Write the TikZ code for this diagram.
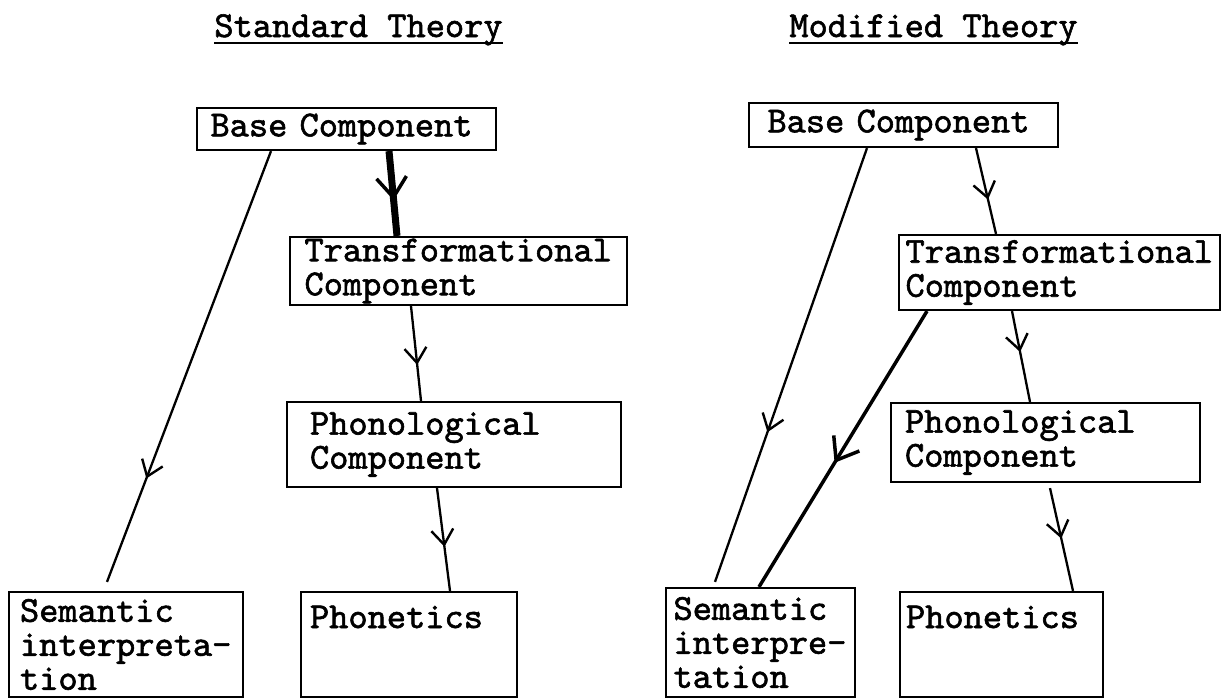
\documentclass[tikz,border=0pt]{standalone}
\usepackage{fontspec}
\setmonofont{lmmono10-regular.otf}[FakeBold=1.6]
\usepackage{tikz}
\usetikzlibrary{arrows.meta,decorations.markings,positioning}
\tikzset{
  comp/.style={draw, line width=2.2pt, inner sep=0pt, align=left},
  midarrow/.style={postaction={decorate}, decoration={markings,
    mark=at position #1 with {\arrow{Straight Barb[length=15pt,width=22pt,line width=2.4pt]}}}},
  bigarrow/.style={postaction={decorate}, decoration={markings,
    mark=at position #1 with {\arrow{Straight Barb[length=20pt,width=30pt,line width=3.5pt]}}}},
  thinline/.style={line width=2.3pt},
}
\begin{document}
\begin{tikzpicture}[x=1pt, y=-1pt, on grid,
  every node/.style={font=\fontsize{36.6}{34}\selectfont\ttfamily\bfseries}]
   \useasboundingbox (0,0) rectangle (1225,699);
   \node[anchor=base, inner sep=0pt] (titleL) at (358.5,37) {Standard Theory};
   \node[anchor=base, inner sep=0pt] (titleR) at (933.5,37) {Modified Theory};
   \draw[line width=2pt] ([yshift=-6pt]titleL.base west) -- ([yshift=-6pt]titleL.base east);
   \draw[line width=2pt] ([yshift=-6pt]titleR.base west) -- ([yshift=-6pt]titleR.base east);

   \node[comp, minimum width=299pt, minimum height=42pt, text width=272pt] (baseL) at (346.5,129) {Base Component};
   \node[comp, minimum width=337pt, minimum height=68pt, text width=308pt] (transL) [below right=142pt and 112pt of baseL] {Transformational\\Component};
   \node[comp, minimum width=334pt, minimum height=85pt, text width=288pt] (phonoL) [below left=173.5pt and 4.5pt of transL] {Phonological\\Component};
   \node[comp, minimum width=216pt, text width=198pt, text height=36pt, text depth=69pt] (phonetL) [below left=200pt and 45pt of phonoL] {Phonetics};
   \node[comp, minimum width=234pt, minimum height=105pt, text width=212pt] (semL) [left=283pt of phonetL] {Semantic\\interpreta-\\tion};

   \node[comp, minimum width=309pt, minimum height=44pt, text width=272pt] (baseR) at (903.5,125) {Base Component};
   \node[comp, minimum width=321pt, minimum height=75pt, text width=308pt] (transR) [below right=147.5pt and 156pt of baseR] {Transformational\\Component};
   \node[comp, minimum width=309pt, minimum height=79pt, text width=281pt] (phonoR) [below left=170pt and 14pt of transR] {Phonological\\Component};
   \node[comp, minimum width=203pt, text width=191pt, text height=36pt, text depth=69pt] (phonetR) [below left=202pt and 44pt of phonoR] {Phonetics};
   \node[comp, minimum width=189pt, minimum height=109pt, text width=174pt] (semR) [above left=2pt and 241pt of phonetR] {Semantic\\interpre-\\tation};

    \path[thinline]
    ([xshift=-75.5pt]baseL.south) edge[midarrow=0.76] ([xshift=-19pt,yshift=9pt]semL.north)
    ([xshift=42.5pt]baseL.south) edge[line width=7pt, bigarrow=0.58] ([xshift=-61.5pt]transL.north)
    ([xshift=-47.5pt]transL.south) edge[midarrow=0.62] ([xshift=-33pt]phonoL.north)
    ([xshift=-17pt]phonoL.south) edge[midarrow=0.57] ([xshift=41pt]phonetL.north);
    \path[thinline]
    ([xshift=-36.5pt]baseR.south) edge[midarrow=0.655] ([xshift=-45.5pt,yshift=5pt]semR.north)
    ([xshift=72.5pt]baseR.south) edge[midarrow=0.6] ([xshift=-63.5pt]transR.north)
    ([xshift=-132.5pt]transR.south) edge[line width=3.5pt, bigarrow=0.55] ([xshift=-1.5pt]semR.north)
    ([xshift=-47.5pt]transR.south) edge[midarrow=0.45] ([xshift=-15.5pt]phonoR.north)
    ([xshift=4.5pt,yshift=-5pt]phonoR.south) edge[midarrow=0.49] ([xshift=71.5pt]phonetR.north);
\end{tikzpicture}
\end{document}
